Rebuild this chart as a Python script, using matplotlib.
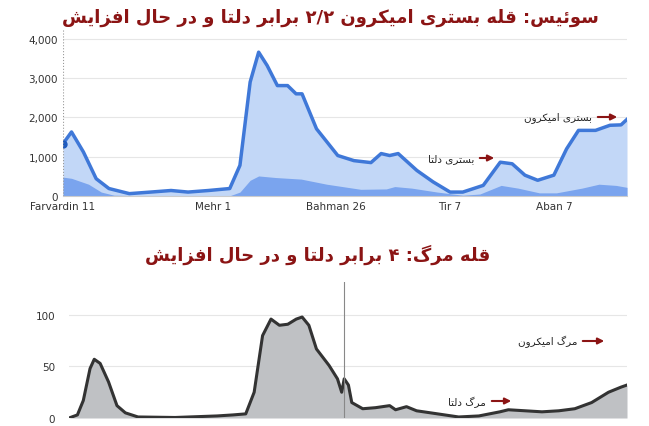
import numpy as np
import matplotlib
matplotlib.use("Agg")
import matplotlib.pyplot as plt

# top chart: hospitalised (total) and inner darker area, x in days from Farvardin 11
hosp_days = [0, 10, 24, 39, 54, 78, 103, 127, 147, 171, 196, 208, 220, 230, 240, 252, 264, 274, 281,
             298, 323, 342, 362, 374, 384, 394, 416, 435, 455, 470, 494, 514, 528, 543, 558, 577,
             592, 606, 626, 643, 656, 663]
hosp_vals = [1330, 1630, 1120, 440, 190, 60, 100, 140, 100, 140, 190, 780, 2900, 3660, 3320, 2810,
             2810, 2600, 2600, 1710, 1030, 900, 850, 1080, 1030, 1080, 650, 360, 100, 100, 270, 860,
             820, 530, 400, 530, 1200, 1670, 1670, 1800, 1810, 1950]
icu_days = [0, 10, 30, 45, 60, 100, 196, 208, 220, 230, 250, 280, 310, 350, 380, 390, 410, 440, 470,
            490, 515, 535, 560, 580, 610, 630, 650, 663]
icu_vals = [480, 450, 300, 100, 20, 5, 5, 100, 400, 510, 470, 430, 300, 170, 180, 240, 200, 100, 20,
            50, 270, 200, 80, 80, 200, 300, 270, 220]
tick_days = [0, 176, 321, 455, 578]
tick_labels = ["Farvardin 11", "Mehr 1", "Bahman 26", "Tir 7", "Aban 7"]

# bottom chart: deaths (7-day line)
death_days = [0, 10, 17, 25, 30, 37, 47, 57, 67, 82, 126, 176, 195, 210, 220, 230, 240, 250, 260, 270,
              277, 285, 294, 309, 319, 324, 327, 332, 336, 349, 364, 381, 388, 401, 413, 438, 463, 487,
              512, 522, 542, 562, 582, 601, 621, 641, 656, 663]
death_vals = [0, 3, 17, 48, 57, 53, 35, 12, 5, 1, 0.5, 2, 3, 4, 25, 80, 96, 90, 91, 96, 98, 90, 67, 51,
              38, 25, 38, 32, 15, 9, 10, 12, 8, 11, 7, 4, 1, 2, 6, 8, 7, 6, 7, 9, 15, 25, 30, 32]

ARABIC = {
    'ا': ('\uFE8D', '\uFE8E', None, None), 'ب': ('\uFE8F', '\uFE90', '\uFE91', '\uFE92'),
    'ت': ('\uFE95', '\uFE96', '\uFE97', '\uFE98'), 'ح': ('\uFEA1', '\uFEA2', '\uFEA3', '\uFEA4'),
    'د': ('\uFEA9', '\uFEAA', None, None), 'ر': ('\uFEAD', '\uFEAE', None, None),
    'ز': ('\uFEAF', '\uFEB0', None, None), 'س': ('\uFEB1', '\uFEB2', '\uFEB3', '\uFEB4'),
    'ش': ('\uFEB5', '\uFEB6', '\uFEB7', '\uFEB8'), 'ف': ('\uFED1', '\uFED2', '\uFED3', '\uFED4'),
    'ق': ('\uFED5', '\uFED6', '\uFED7', '\uFED8'), 'ل': ('\uFEDD', '\uFEDE', '\uFEDF', '\uFEE0'),
    'م': ('\uFEE1', '\uFEE2', '\uFEE3', '\uFEE4'), 'ن': ('\uFEE5', '\uFEE6', '\uFEE7', '\uFEE8'),
    'ه': ('\uFEE9', '\uFEEA', '\uFEEB', '\uFEEC'), 'و': ('\uFEED', '\uFEEE', None, None),
    'ئ': ('\uFE89', '\uFE8A', '\uFE8B', '\uFE8C'), 'ی': ('\uFBFC', '\uFBFD', '\uFBFE', '\uFBFF'),
    'ک': ('\uFB8E', '\uFB8F', '\uFB90', '\uFB91'), 'گ': ('\uFB92', '\uFB93', '\uFB94', '\uFB95'),
}


def shape(s):
    out = []
    for i, c in enumerate(s):
        if c not in ARABIC:
            out.append(c)
            continue
        prev = s[i - 1] if i > 0 else ''
        nxt = s[i + 1] if i + 1 < len(s) else ''
        join_prev = prev in ARABIC and ARABIC[prev][2] is not None
        join_next = ARABIC[c][2] is not None and nxt in ARABIC
        iso, fin, ini, med = ARABIC[c]
        if join_prev and join_next:
            out.append(med)
        elif join_prev:
            out.append(fin)
        elif join_next:
            out.append(ini)
        else:
            out.append(iso)
    return ''.join(out)[::-1]


plt.rcParams['font.family'] = ['DejaVu Sans', 'Noto Sans']
red = '#8b1414'
fig = plt.figure(figsize=(6.49, 4.27), dpi=100)

ax1 = fig.add_axes([63/649, 1 - 197/427, 564/649, 167/427])
ax1.fill_between(hosp_days, hosp_vals, color='#c2d7f7', lw=0)
ax1.fill_between(icu_days, icu_vals, color='#7aa4ee', lw=0)
ax1.plot(hosp_days, hosp_vals, color='#3f78d8', lw=2.5)
ax1.plot([0], [1330], 'o', color='#1f5bbf', ms=5)
ax1.axvline(0, color='#999999', lw=0.8, ls=':')
ax1.set_xlim(0, 663)
ax1.set_ylim(0, 4250)
ax1.set_yticks([0, 1000, 2000, 3000, 4000])
ax1.set_yticklabels(["0", "1,000", "2,000", "3,000", "4,000"])
ax1.set_xticks(tick_days)
ax1.set_xticklabels(tick_labels)
ax1.grid(axis='y', color='#e6e6e6', lw=0.8)
ax1.set_axisbelow(True)
for sp in ['top', 'right', 'left']:
    ax1.spines[sp].set_visible(False)
ax1.spines['bottom'].set_color('#cccccc')
ax1.tick_params(length=0, labelsize=7.5, colors='#333333')

ax2 = fig.add_axes([69/649, 1 - 419/427, 558/649, 136/427])
ax2.fill_between(death_days, death_vals, color='#bfc1c4', lw=0)
ax2.plot(death_days, death_vals, color='#333333', lw=2.2)
ax2.axvline(327, color='#888888', lw=0.8)
ax2.set_xlim(0, 663)
ax2.set_ylim(0, 132)
ax2.set_yticks([0, 50, 100])
ax2.set_xticks([])
ax2.grid(axis='y', color='#e6e6e6', lw=0.8)
ax2.set_axisbelow(True)
for sp in ['top', 'right', 'left', 'bottom']:
    ax2.spines[sp].set_visible(False)
ax2.tick_params(length=0, labelsize=7.5, colors='#333333')
ax2.yaxis.set_tick_params(pad=10)

fig.text(330/649, 1 - 18/427, shape("سوئیس: قله بستری امیکرون ۲/۲ برابر دلتا و در حال افزایش"),
         ha='center', va='center', color=red, fontsize=13, fontweight='bold')
fig.text(318/649, 1 - 255/427, shape("قله مرگ: ۴ برابر دلتا و در حال افزایش"),
         ha='center', va='center', color=red, fontsize=13, fontweight='bold')


def label(text, x, y, x_end):
    fig.text(x/649, 1 - y/427, shape(text), ha='right', va='center', fontsize=7.5, color='#222222')
    fig.add_artist(matplotlib.patches.FancyArrowPatch(
        ((x + 3)/649, 1 - y/427), (x_end/649, 1 - y/427), transform=fig.transFigure,
        arrowstyle='-|>', mutation_scale=9, color=red, lw=1.5))


label("بستری امیکرون", 592, 118, 620)
label("بستری دلتا", 474, 159, 497)
label("مرگ امیکرون", 577, 342, 607)
label("مرگ دلتا", 486, 402, 514)

fig.savefig("out.png", dpi=100)
